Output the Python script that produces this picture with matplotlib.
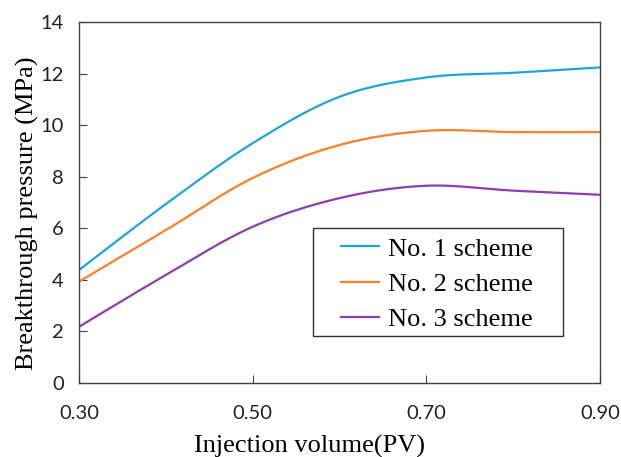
import numpy as np
import matplotlib
matplotlib.use("Agg")
import matplotlib.pyplot as plt
from matplotlib.patches import Rectangle

# data
injection_pv = [0.30, 0.40, 0.50, 0.60, 0.70, 0.80, 0.90]
scheme_1 = [4.38, 6.94, 9.30, 11.10, 11.85, 12.03, 12.24]
scheme_2 = [3.93, 5.93, 7.95, 9.23, 9.78, 9.73, 9.73]
scheme_3 = [2.18, 4.19, 6.06, 7.17, 7.65, 7.46, 7.30]
series_names = ["No. 1 scheme", "No. 2 scheme", "No. 3 scheme"]
x_ticks = [0.30, 0.50, 0.70, 0.90]
y_ticks = [0, 2, 4, 6, 8, 10, 12, 14]

colors = ["#1DA6DB", "#FF7F27", "#8E3DB0"]


def smooth_line(xs, ys, n=40):
    """Excel-style smoothed line (cubic Bezier through every point)."""
    xs = np.asarray(xs, float)
    ys = np.asarray(ys, float)
    px = np.concatenate([[xs[0]], xs, [xs[-1]]])
    py = np.concatenate([[ys[0]], ys, [ys[-1]]])
    t = np.linspace(0, 1, n)
    out_x, out_y = [], []
    for i in range(1, len(px) - 2):
        p0x, p0y = px[i], py[i]
        p3x, p3y = px[i + 1], py[i + 1]
        c1x = p0x + (px[i + 1] - px[i - 1]) / 6
        c1y = p0y + (py[i + 1] - py[i - 1]) / 6
        c2x = p3x - (px[i + 2] - px[i]) / 6
        c2y = p3y - (py[i + 2] - py[i]) / 6
        b0 = (1 - t) ** 3
        b1 = 3 * (1 - t) ** 2 * t
        b2 = 3 * (1 - t) * t ** 2
        b3 = t ** 3
        out_x.append(b0 * p0x + b1 * c1x + b2 * c2x + b3 * p3x)
        out_y.append(b0 * p0y + b1 * c1y + b2 * c2y + b3 * p3y)
    return np.concatenate(out_x), np.concatenate(out_y)


fig = plt.figure(figsize=(6.21, 4.57), dpi=100)
ax = fig.add_axes([79 / 621, 74 / 457, 521 / 621, 361 / 457])

for ys, name, c in zip([scheme_1, scheme_2, scheme_3], series_names, colors):
    sx, sy = smooth_line(injection_pv, ys)
    ax.plot(sx, sy, color=c, lw=1.6, label=name, solid_capstyle="butt")

ax.set_xlim(0.30, 0.90)
ax.set_ylim(0, 14)
ax.set_xticks(x_ticks)
ax.set_xticklabels([f"{v:.2f}" for v in x_ticks])
ax.set_yticks(y_ticks)

for sp in ax.spines.values():
    sp.set_color("#404040")
    sp.set_linewidth(1.0)

ax.tick_params(axis="both", direction="in", length=6, width=0.8, color="#404040",
               labelsize=14.5, labelcolor="#222222")
ax.tick_params(axis="x", pad=16)
ax.tick_params(axis="y", pad=11)
for lab in ax.get_xticklabels() + ax.get_yticklabels():
    lab.set_family("Lato")

label_font = {"family": "Liberation Serif", "size": 19}
ax.set_xlabel("Injection volume(PV)", fontdict=label_font)
ax.xaxis.set_label_coords(0.443, -0.145)
ax.set_ylabel("Breakthrough pressure (MPa)", fontdict=label_font)
ax.yaxis.set_label_coords(-0.077, 0.47)

# legend box drawn separately so the side padding can be wider than the top/bottom
ax.add_patch(Rectangle((0.449, 0.130), 0.480, 0.299, transform=ax.transAxes,
                       facecolor="white", edgecolor="#333333", lw=1.0, zorder=4))
leg = ax.legend(loc="upper left", bbox_to_anchor=(0.501, 0.404),
                prop={"family": "Liberation Serif", "size": 19},
                frameon=False, handlelength=1.5, handletextpad=0.3,
                borderpad=0, labelspacing=0.45, borderaxespad=0)
leg.set_zorder(5)

fig.savefig("out.png", dpi=100)
